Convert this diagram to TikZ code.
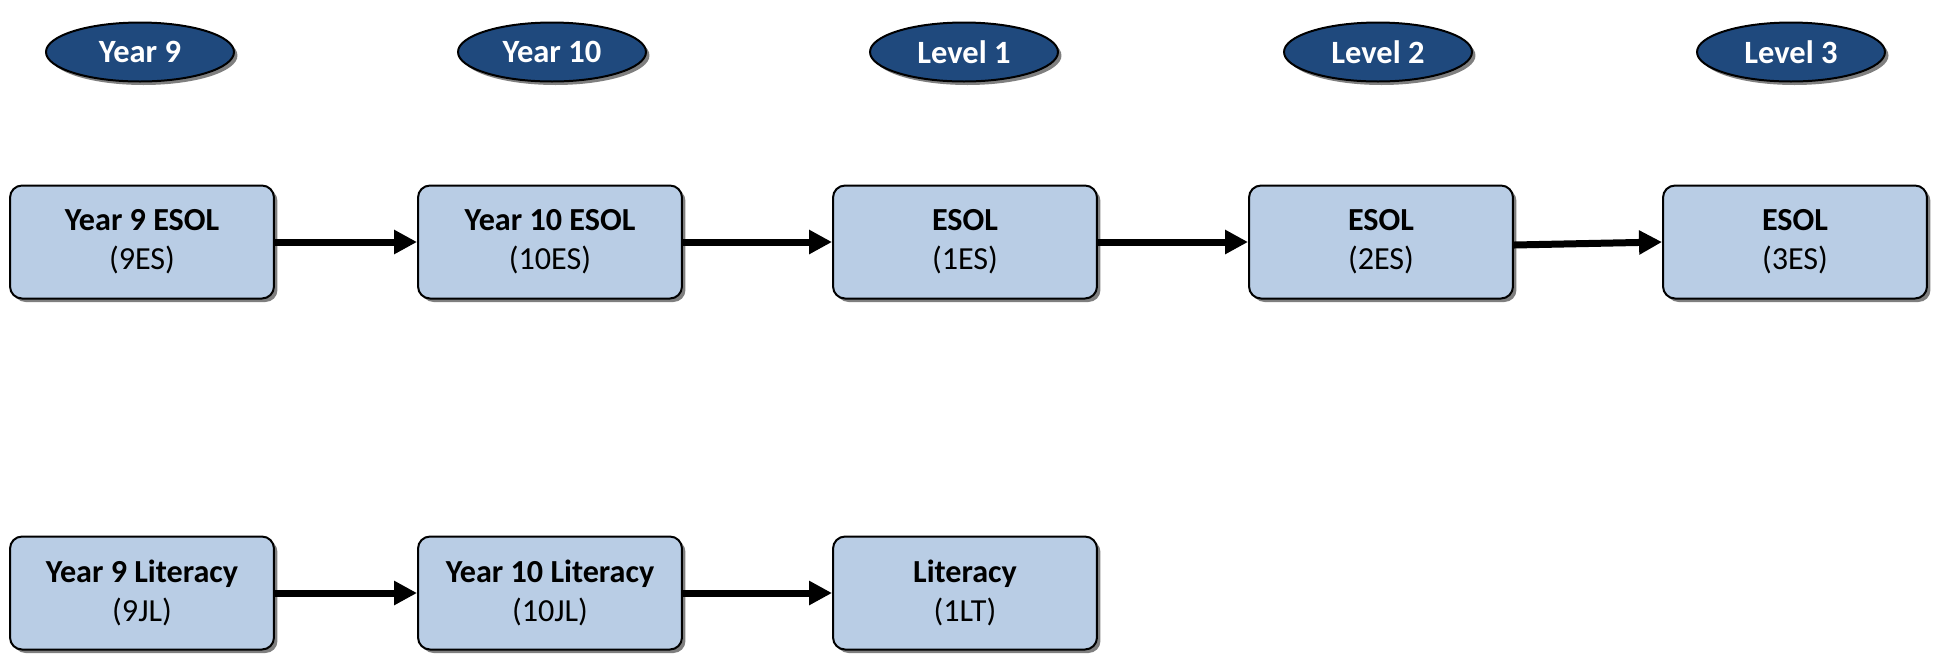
\documentclass[tikz,border=0pt]{standalone}
\usepackage{fontspec}
\setmainfont{Carlito}
\usetikzlibrary{arrows.meta,shapes.geometric,shadows}

\definecolor{darkblue}{HTML}{1F497D}
\definecolor{lightblue}{HTML}{B9CDE5}

\begin{document}
\begin{tikzpicture}[x=0.02cm,y=-0.02cm,
  level/.style={ellipse,draw=black,line width=0.04cm,fill=darkblue,text=white,
    minimum width=3.76cm,minimum height=1.18cm,inner sep=0pt,
    font=\fontsize{18.5}{22}\selectfont\bfseries,
    drop shadow={shadow xshift=0.07cm,shadow yshift=-0.07cm,fill=black,opacity=0.5}},
  course/.style={rectangle,rounded corners=0.24cm,draw=black,line width=0.04cm,
    fill=lightblue,minimum width=5.28cm,minimum height=2.26cm,align=center,
    font=\fontsize{18.3}{22}\selectfont,
    drop shadow={shadow xshift=0.07cm,shadow yshift=-0.07cm,fill=black,opacity=0.5}},
  link/.style={line width=0.14cm,-{Triangle[length=0.46cm,width=0.46cm]}}]

\useasboundingbox (0,0) rectangle (1941,654);

% level headings
\node[level] (y9)  at (140,52) {Year 9};
\node[level] (y10) at (552,52) {Year 10};
\node[level] (l1)  at (964,52) {Level 1};
\node[level] (l2)  at (1378,52) {Level 2};
\node[level] (l3)  at (1791,52) {Level 3};

% ESOL courses
\node[course] (es9)  at (142,242)  {\textbf{Year 9 ESOL}\\(9ES)};
\node[course] (es10) at (550,242)  {\textbf{Year 10 ESOL}\\(10ES)};
\node[course] (es1)  at (965,242)  {\textbf{ESOL}\\(1ES)};
\node[course] (es2)  at (1381,242) {\textbf{ESOL}\\(2ES)};
\node[course] (es3)  at (1795,242) {\textbf{ESOL}\\(3ES)};

% literacy courses
\node[course] (jl9)  at (142,593) {\textbf{Year 9 Literacy}\\(9JL)};
\node[course] (jl10) at (550,593) {\textbf{Year 10 Literacy}\\(10JL)};
\node[course] (lt1)  at (965,593) {\textbf{Literacy}\\(1LT)};

% arrows
\draw[link] (es9) -- (es10);
\draw[link] (es10) -- (es1);
\draw[link] (es1) -- (es2);
\draw[link] ([yshift=-0.06cm]es2.east) -- (es3.west);
\draw[link] (jl9) -- (jl10);
\draw[link] (jl10) -- (lt1);

\end{tikzpicture}
\end{document}
